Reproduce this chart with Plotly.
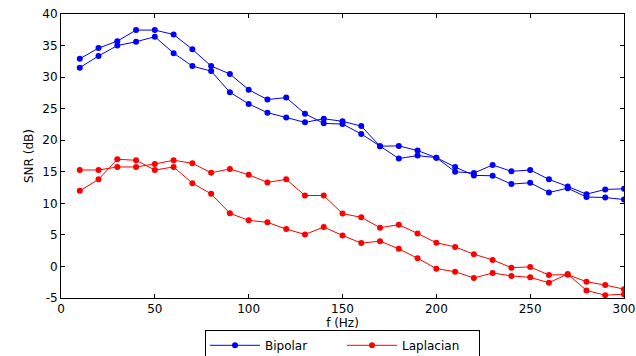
import plotly.graph_objects as go

freq = [10, 20, 30, 40, 50, 60, 70, 80, 90, 100, 110, 120, 130, 140, 150,
        160, 170, 180, 190, 200, 210, 220, 230, 240, 250, 260, 270, 280, 290, 300]

bipolar_a = [32.9, 34.6, 35.7, 37.45, 37.45, 36.75, 34.4, 31.75, 30.5, 28.0,
             26.45, 26.76, 24.2, 22.67, 22.56, 21.0, 19.06, 19.1, 18.36, 17.24,
             15.0, 14.8, 16.08, 15.07, 15.28, 13.8, 12.68, 11.45, 12.2, 12.3]
bipolar_b = [31.5, 33.35, 35.0, 35.6, 36.4, 33.8, 31.75, 30.95, 27.6, 25.75,
             24.37, 23.6, 22.83, 23.4, 23.0, 22.24, 19.06, 17.1, 17.56, 17.24,
             15.76, 14.43, 14.37, 13.05, 13.26, 11.72, 12.4, 11.0, 10.92, 10.6]

laplacian_a = [15.28, 15.28, 15.76, 15.76, 16.24, 16.82, 16.35, 14.85, 15.44, 14.53,
               13.32, 13.8, 11.24, 11.24, 8.37, 7.78, 6.14, 6.62, 5.23, 3.75,
               3.1, 1.93, 1.04, -0.19, -0.08, -1.35, -1.3, -2.42, -2.95, -3.6]
laplacian_b = [11.98, 13.8, 16.98, 16.82, 15.28, 15.76, 13.2, 11.5, 8.42, 7.3,
               6.99, 5.92, 5.07, 6.24, 4.91, 3.7, 4.0, 2.79, 1.3, -0.35,
               -0.83, -1.83, -1.04, -1.5, -1.73, -2.58, -1.2, -3.8, -4.55, -4.4]

x_ticks = [0, 50, 100, 150, 200, 250, 300]
y_ticks = [-5, 0, 5, 10, 15, 20, 25, 30, 35, 40]

FONT = "DejaVu Sans, Liberation Sans, Arial, sans-serif"

fig = go.Figure()

series = [
    ("Bipolar", bipolar_a, "#0000ff", True),
    ("Bipolar", bipolar_b, "#0000ff", False),
    ("Laplacian", laplacian_a, "#ff0000", True),
    ("Laplacian", laplacian_b, "#ff0000", False),
]
for name, vals, col, show in series:
    fig.add_trace(go.Scatter(
        x=freq, y=vals, mode="lines+markers", name=name,
        legendgroup=name, showlegend=show,
        line=dict(color=col, width=1),
        marker=dict(color=col, size=6, symbol="circle"),
    ))

axis_common = dict(
    showgrid=False, zeroline=False, showline=True, linecolor="black",
    linewidth=1, mirror="ticks", ticks="inside", ticklen=4,
    tickcolor="black", tickfont=dict(family=FONT, size=12, color="black"),
    automargin=False,
)

fig.update_xaxes(range=[0, 300], tickvals=x_ticks, ticktext=[str(v) for v in x_ticks],
                 title=dict(text="f (Hz)", font=dict(family=FONT, size=12, color="black"),
                            standoff=0),
                 **axis_common)
fig.update_yaxes(range=[-5, 40], tickvals=y_ticks, ticktext=[str(v) for v in y_ticks],
                 title=dict(text="SNR (dB)", font=dict(family=FONT, size=12, color="black"),
                            standoff=6),
                 **axis_common)

fig.update_layout(
    width=636, height=356,
    margin=dict(l=61, r=12, t=14, b=58, autoexpand=False),
    paper_bgcolor="white", plot_bgcolor="white",
    font=dict(family=FONT, size=12, color="black"),
    legend=dict(
        orientation="h", x=0.5, xanchor="center", y=-0.112, yanchor="top",
        bordercolor="black", borderwidth=1, bgcolor="white",
        font=dict(family=FONT, size=12, color="black"),
        itemwidth=50, tracegroupgap=0, entrywidth=72,
    ),
)

fig.write_html("out.html", config={"displayModeBar": False},
               post_script="document.body.style.margin='0';")
